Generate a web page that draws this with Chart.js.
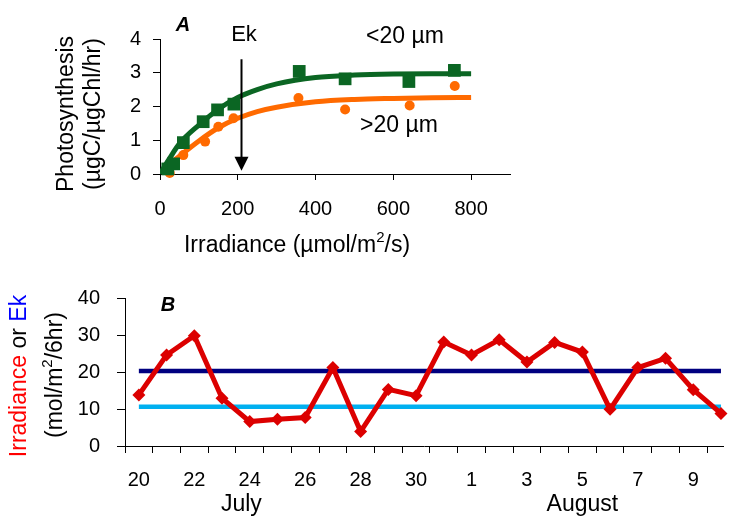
<!DOCTYPE html>
<html>
<head>
<meta charset="utf-8">
<script src="https://cdn.jsdelivr.net/npm/chart.js@4.4.1/dist/chart.umd.min.js"></script>
<style>
  html, body { margin: 0; padding: 0; background: #fff; overflow: hidden; }
  #wrapA { position: absolute; left: 0; top: 0; width: 736px; height: 262px; }
  #wrapB { position: absolute; left: 0; top: 260px; width: 736px; height: 256px; }
</style>
</head>
<body>
<div id="wrapA"><canvas id="chartA"></canvas></div>
<div id="wrapB"><canvas id="chartB"></canvas></div>
<script>
// ---- panel A: photosynthesis vs irradiance ----
const irrTicks = [0, 200, 400, 600, 800];
const photoTicks = [0, 0.5, 1, 1.5, 2, 2.5, 3, 3.5, 4];

const smallIrr = [20, 35, 60, 111, 148, 190, 358, 476, 640, 757];
const smallPhoto = [0.15, 0.3, 0.93, 1.55, 1.9, 2.07, 3.04, 2.82, 2.74, 3.07];
const largeIrr = [25, 60, 116, 150, 189, 356, 476, 642, 758];
const largePhoto = [0.03, 0.56, 0.96, 1.4, 1.65, 2.25, 1.91, 2.03, 2.61];

// fitted curves
const fitIrr = [0, 25, 50, 100, 150, 200, 250, 300, 400, 500, 600, 700, 800];
const fitSmall = [0, 0.47, 0.9, 1.45, 1.92, 2.27, 2.5, 2.67, 2.86, 2.93, 2.96, 2.97, 2.97];
const fitLarge = [0, 0.3, 0.53, 0.98, 1.37, 1.65, 1.85, 1.98, 2.14, 2.21, 2.24, 2.26, 2.27];

const ekIrr = 208;

// ---- panel B: daily irradiance vs Ek ----
const days = ['20', '21', '22', '23', '24', '25', '26', '27', '28', '29', '30', '31',
              '1', '2', '3', '4', '5', '6', '7', '8', '9', '10'];
const irradiance = [13.8, 24.6, 29.8, 12.9, 6.6, 7.2, 7.7, 21.2, 3.9, 15.3, 13.6, 28.1,
                    24.6, 28.7, 22.7, 28.0, 25.4, 9.9, 21.2, 23.7, 15.2, 8.8];
const ekHigh = 20.3;
const ekLow = 10.6;
const irrBTicks = [0, 10, 20, 30, 40];
const monthNames = ['July', 'August'];
const monthPos = [3.7, 16];

const FONT = '"Liberation Sans", Arial, sans-serif';
const toXY = (xs, ys) => xs.map((x, i) => ({ x: x, y: ys[i] }));

// draws a line of text made of coloured / superscript parts, centred on (cx, cy)
function drawRun(ctx, parts, cx, cy, size, rotated, style) {
  ctx.save();
  ctx.translate(cx, cy);
  if (rotated) ctx.rotate(-Math.PI / 2);
  ctx.textBaseline = 'middle';
  ctx.textAlign = 'left';
  const supSize = Math.round(size * 0.66);
  const pre = style ? style + ' ' : '';
  let total = 0;
  parts.forEach((p) => {
    ctx.font = pre + (p.sup ? supSize : size) + 'px ' + FONT;
    p.w = ctx.measureText(p.t).width;
    total += p.w;
  });
  let x = -total / 2;
  parts.forEach((p) => {
    ctx.font = pre + (p.sup ? supSize : size) + 'px ' + FONT;
    ctx.fillStyle = p.c || '#000';
    ctx.fillText(p.t, x, p.sup ? -size * 0.36 : 0);
    x += p.w;
  });
  ctx.restore();
}

const axisLine = { display: true, color: '#000', width: 1 };

const panelAText = {
  id: 'panelAText',
  afterDraw(chart) {
    const ctx = chart.ctx;
    const xs = chart.scales.x, ys = chart.scales.y;
    drawRun(ctx, [{ t: 'Photosynthesis' }], 67, 114, 23, true);
    drawRun(ctx, [{ t: '(µgC/µgChl/hr)' }], 94, 114, 23, true);
    drawRun(ctx, [{ t: 'Irradiance (µmol/m' }, { t: '2', sup: true }, { t: '/s)' }], 297, 246, 23, false);
    drawRun(ctx, [{ t: 'A' }], 183, 25, 20, false, 'italic bold');
    drawRun(ctx, [{ t: 'Ek' }], 244, 35, 22, false);
    drawRun(ctx, [{ t: '<20 µm' }], 405, 37, 23, false);
    drawRun(ctx, [{ t: '>20 µm' }], 399, 126, 23, false);

    // Ek arrow
    const ax = Math.round(xs.getPixelForValue(ekIrr)) + 0.5;
    const top = ys.getPixelForValue(3.4);
    const tip = ys.getPixelForValue(0.1);
    ctx.save();
    ctx.strokeStyle = '#000';
    ctx.fillStyle = '#000';
    ctx.lineWidth = 2;
    ctx.beginPath();
    ctx.moveTo(ax, top);
    ctx.lineTo(ax, tip - 12);
    ctx.stroke();
    ctx.beginPath();
    ctx.moveTo(ax - 7, tip - 14);
    ctx.lineTo(ax + 7, tip - 14);
    ctx.lineTo(ax, tip);
    ctx.closePath();
    ctx.fill();
    ctx.restore();
  }
};

new Chart(document.getElementById('chartA'), {
  type: 'scatter',
  data: {
    datasets: [
      {
        type: 'line',
        data: toXY(fitIrr, fitSmall),
        borderColor: '#0b6623',
        borderWidth: 5,
        pointRadius: 0,
        cubicInterpolationMode: 'monotone',
        order: 1
      },
      {
        data: toXY(smallIrr, smallPhoto),
        pointStyle: 'rect',
        pointRadius: 9,
        backgroundColor: '#0b6623',
        borderWidth: 0,
        clip: false,
        order: 0
      },
      {
        type: 'line',
        data: toXY(fitIrr, fitLarge),
        borderColor: '#ff6a00',
        borderWidth: 5,
        pointRadius: 0,
        cubicInterpolationMode: 'monotone',
        order: 3
      },
      {
        data: toXY(largeIrr, largePhoto),
        pointStyle: 'circle',
        pointRadius: 5,
        backgroundColor: '#ff6a00',
        borderWidth: 0,
        clip: false,
        order: 2
      }
    ]
  },
  options: {
    responsive: true,
    maintainAspectRatio: false,
    devicePixelRatio: 1,
    animation: false,
    events: [],
    layout: { padding: { top: 39, right: 226, left: 0, bottom: 0 } },
    plugins: { legend: { display: false }, tooltip: { enabled: false } },
    scales: {
      x: {
        type: 'linear',
        min: 0,
        max: 900,
        afterBuildTicks: (s) => { s.ticks = irrTicks.map((v) => ({ value: v })); },
        afterFit: (s) => { s.height = 88; },
        border: axisLine,
        grid: { drawOnChartArea: false, tickLength: 6, color: '#000' },
        ticks: { color: '#000', padding: 17, maxRotation: 0, font: { family: FONT, size: 20 } }
      },
      y: {
        min: 0,
        max: 4,
        afterBuildTicks: (s) => { s.ticks = photoTicks.map((v) => ({ value: v })); },
        afterFit: (s) => { s.width = 160; },
        border: axisLine,
        grid: { drawOnChartArea: false, tickLength: 7, color: '#000' },
        ticks: {
          color: '#000',
          padding: 12,
          font: { family: FONT, size: 20 },
          callback: (v) => (Number.isInteger(v) ? String(v) : '')
        }
      }
    }
  },
  plugins: [panelAText]
});

const panelBText = {
  id: 'panelBText',
  afterDraw(chart) {
    const ctx = chart.ctx;
    const xs = chart.scales.x;
    drawRun(ctx, [{ t: 'Irradiance', c: '#ff0000' }, { t: ' or ' }, { t: 'Ek', c: '#0000ff' }], 20, 116, 23, true);
    drawRun(ctx, [{ t: '(mol/m' }, { t: '2', sup: true }, { t: '/6hr)' }], 56, 115, 23, true);
    drawRun(ctx, [{ t: 'B' }], 168, 45, 20, false, 'italic bold');
    monthNames.forEach((m, i) => {
      drawRun(ctx, [{ t: m }], xs.getPixelForValue(monthPos[i]), 245, 23, false);
    });
  }
};

const lastDay = days.length - 1;

new Chart(document.getElementById('chartB'), {
  type: 'line',
  data: {
    datasets: [
      {
        data: irradiance.map((v, i) => ({ x: i, y: v })),
        borderColor: '#dc0000',
        backgroundColor: '#dc0000',
        borderWidth: 5,
        pointStyle: 'rectRot',
        pointRadius: 6.5,
        pointBorderWidth: 0,
        tension: 0,
        clip: false,
        order: 0
      },
      {
        data: [{ x: 0, y: ekHigh }, { x: lastDay, y: ekHigh }],
        borderColor: '#000080',
        borderWidth: 4.5,
        pointRadius: 0,
        order: 1
      },
      {
        data: [{ x: 0, y: ekLow }, { x: lastDay, y: ekLow }],
        borderColor: '#00b0f0',
        borderWidth: 4.5,
        pointRadius: 0,
        order: 2
      }
    ]
  },
  options: {
    responsive: true,
    maintainAspectRatio: false,
    devicePixelRatio: 1,
    animation: false,
    events: [],
    layout: { padding: { top: 38, right: 7, left: 0, bottom: 0 } },
    plugins: { legend: { display: false }, tooltip: { enabled: false } },
    scales: {
      x: {
        type: 'linear',
        min: -0.5,
        max: 21.09,
        afterBuildTicks: (s) => { s.ticks = days.map((d, i) => ({ value: i })); },
        afterFit: (s) => { s.height = 70; },
        border: axisLine,
        grid: { drawOnChartArea: false, tickLength: 7, color: '#000', offset: true },
        ticks: {
          color: '#000',
          padding: 15,
          maxRotation: 0,
          autoSkip: false,
          font: { family: FONT, size: 20 },
          callback: (v, i) => (i % 2 === 0 ? days[i] : '')
        }
      },
      y: {
        min: 0,
        max: 40,
        afterBuildTicks: (s) => { s.ticks = irrBTicks.map((v) => ({ value: v })); },
        afterFit: (s) => { s.width = 125; },
        border: axisLine,
        grid: { drawOnChartArea: false, tickLength: 8, color: '#000' },
        ticks: { color: '#000', padding: 17, font: { family: FONT, size: 20 } }
      }
    }
  },
  plugins: [panelBText]
});
</script>
</body>
</html>
